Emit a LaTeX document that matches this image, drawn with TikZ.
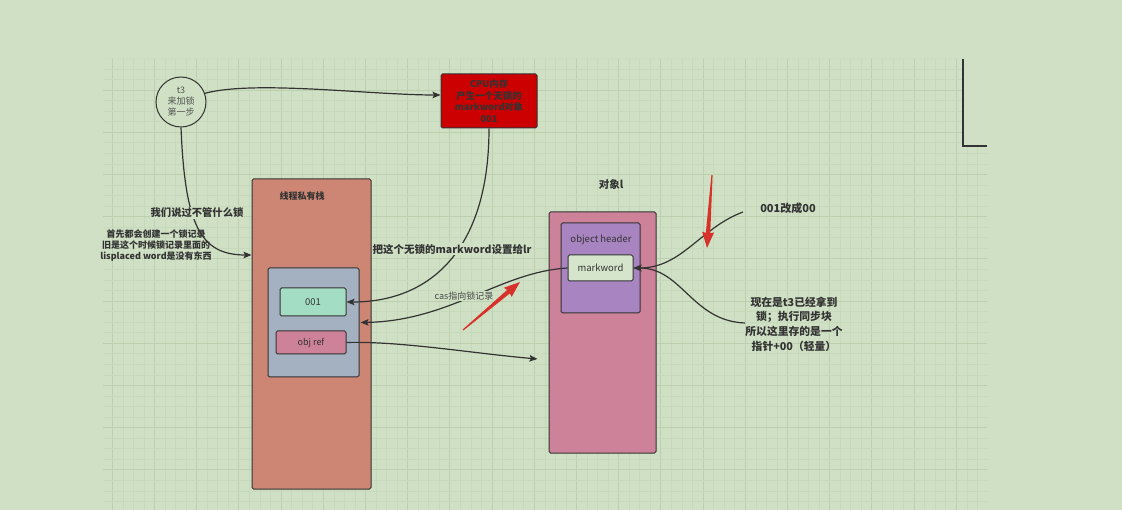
\documentclass[tikz,border=0pt]{standalone}
\usepackage{fontspec}
\setmainfont{Noto Sans CJK SC}
\usetikzlibrary{arrows.meta,calc}
\definecolor{bg}{HTML}{CFE0C4}
\definecolor{gmin}{HTML}{C6D9BA}
\definecolor{gmaj}{HTML}{BCD0AF}
\definecolor{ink}{HTML}{333333}
\definecolor{cpured}{HTML}{CC0000}
\definecolor{salmon}{HTML}{CD8673}
\definecolor{slate}{HTML}{A3B1C0}
\definecolor{mint}{HTML}{A3DDC3}
\definecolor{rose}{HTML}{CE8299}
\definecolor{lilac}{HTML}{A884C1}
\definecolor{pale}{HTML}{D5E5CB}
\definecolor{redmark}{HTML}{D6312B}
\tikzset{
  box/.style={draw=ink, line width=1pt, rounded corners=1.5pt, inner sep=0pt, align=center, text=ink},
  arr/.style={draw=ink, line width=1.2pt, -{Stealth[length=8pt,width=6.5pt,inset=1.5pt]}},
  lbl/.style={fill=bg, inner sep=1pt, text=ink, align=center}
}
% #1 tail x, #2 tail y, #3 angle, #4 length
\newcommand\myredarrow[4]{%
  \begin{scope}[shift={(#1,#2)}, rotate=#3]
    \fill[redmark] (0,-0.6) -- (#4-15,-2.2) -- (#4-16,-6) -- (#4,0) -- (#4-16,6) -- (#4-15,2.2) -- (0,0.6) -- cycle;
  \end{scope}}
\begin{document}
\begin{tikzpicture}[x=1pt,y=-1pt]
\useasboundingbox (0,0) rectangle (1122,510);
\fill[bg] (0,0) rectangle (1122,510);
% grid
\begin{scope}
\clip (103,59) -- (963,59) -- (963,146) -- (987,146) -- (987,510) -- (103,510) -- cycle;
\foreach \i in {0,...,84} {
  \pgfmathsetmacro\gx{101.65+10.55*\i}
  \pgfmathtruncatemacro\m{mod(\i,4)}
  \ifnum\m=1 \draw[gmaj,line width=0.8pt] (\gx,50) -- (\gx,515);
  \else \draw[gmin,line width=0.5pt] (\gx,50) -- (\gx,515);\fi
}
\foreach \j in {0,...,43} {
  \pgfmathsetmacro\gy{58.35+10.55*\j}
  \pgfmathtruncatemacro\m{mod(\j,4)}
  \ifnum\m=3 \draw[gmaj,line width=0.8pt] (100,\gy) -- (990,\gy);
  \else \draw[gmin,line width=0.5pt] (100,\gy) -- (990,\gy);\fi
}
\end{scope}
\draw[ink,line width=1.1pt] (963,59) -- (963,146) -- (987,146);

% nodes
\node[box, circle, fill=bg, minimum size=50pt, font=\fontsize{9}{11}\selectfont, text=ink!85] (t3) at (181,102) {t3\\来加锁\\第一步};
\node[box, fill=cpured, minimum width=96pt, minimum height=54pt, font=\bfseries\fontsize{9.3}{11.5}\selectfont] (cpu) at (489,101) {CPU内存\\产生一个无锁的\\markword对象\\001};

\node[box, fill=salmon, minimum width=119pt, minimum height=310pt] (stack) at (311.5,334) {};
\node[text=ink, font=\bfseries\fontsize{9}{11}\selectfont] (stacktitle) at (302,196) {线程私有栈};
\node[box, fill=slate, minimum width=91pt, minimum height=109pt] (inner) at (313.5,322.5) {};
\node[box, fill=mint, minimum width=66pt, minimum height=28pt, font=\fontsize{9.5}{11}\selectfont] (b001) at (313,302) {001};
\node[box, fill=rose, minimum width=70pt, minimum height=23pt, font=\fontsize{9}{11}\selectfont] (objref) at (311,342.5) {obj ref};

\node[box, fill=rose, minimum width=107pt, minimum height=241pt] (obj) at (602.5,332.5) {};
\node[text=ink, font=\bfseries\fontsize{10.5}{12}\selectfont] (objtitle) at (611,184) {对象l};
\node[box, fill=lilac, minimum width=79pt, minimum height=90pt] (header) at (600.5,268) {};
\node[text=ink, font=\fontsize{9.5}{11}\selectfont] (headertitle) at (601,240) {object header};
\node[box, fill=pale, minimum width=65pt, minimum height=26pt, font=\fontsize{9.5}{11}\selectfont] (mw) at (600.5,268) {markword};

% free ends
\coordinate (c5) at (743,212);
\coordinate (c6) at (745,323);

% connectors
\draw[arr] (t3.20) .. controls (255,80) and (370,95) .. ([yshift=6pt]cpu.west);
\draw[arr] (t3.south) .. controls (185,225) and (200,255) .. ([yshift=79pt]stack.west);
\draw[arr] (cpu.south) .. controls (489,250) and (430,302) .. (b001.east);
\draw[arr] (mw.west) .. controls (500,272) and (450,321) .. ([xshift=1pt]inner.east);
\draw[arr] (objref.east) .. controls (400,341) and (470,353) .. ([xshift=-11pt,yshift=-26.5pt]obj.west);
\draw[arr] (c5) .. controls (700,228) and (682,268) .. (mw.east);
\draw[arr] (c6) .. controls (692,321) and (682,268) .. (mw.east);

% labels
\node[lbl, font=\bfseries\fontsize{10.3}{12}\selectfont] (l1) at (197,213) {我们说过不管什么锁};
\node[text=ink, align=center, font=\bfseries\fontsize{9}{11}\selectfont] (l2) at (156,246) {首先都会创建一个锁记录\\旧是这个时候锁记录里面的\\lisplaced word是没有东西};
\node[lbl, font=\bfseries\fontsize{10.5}{12}\selectfont] (l3) at (452,249) {把这个无锁的markword设置给lr};
\node[lbl, font=\fontsize{9}{11}\selectfont, text=ink!90] (l4) at (464,296) {cas指向锁记录};
\node[text=ink, font=\bfseries\fontsize{11}{13}\selectfont] (l5) at (788,208) {001改成00};
\node[text=ink, align=center, font=\bfseries\fontsize{10.8}{14.6}\selectfont] (l6) at (794,324) {现在是t3已经拿到\\锁；执行同步块\\所以这里存的是一个\\指针+00（轻量）};

% red annotation arrows
\myredarrow{712}{175}{-93.9}{73.2}
\myredarrow{463}{330}{40.1}{74.5}
\end{tikzpicture}
\end{document}
